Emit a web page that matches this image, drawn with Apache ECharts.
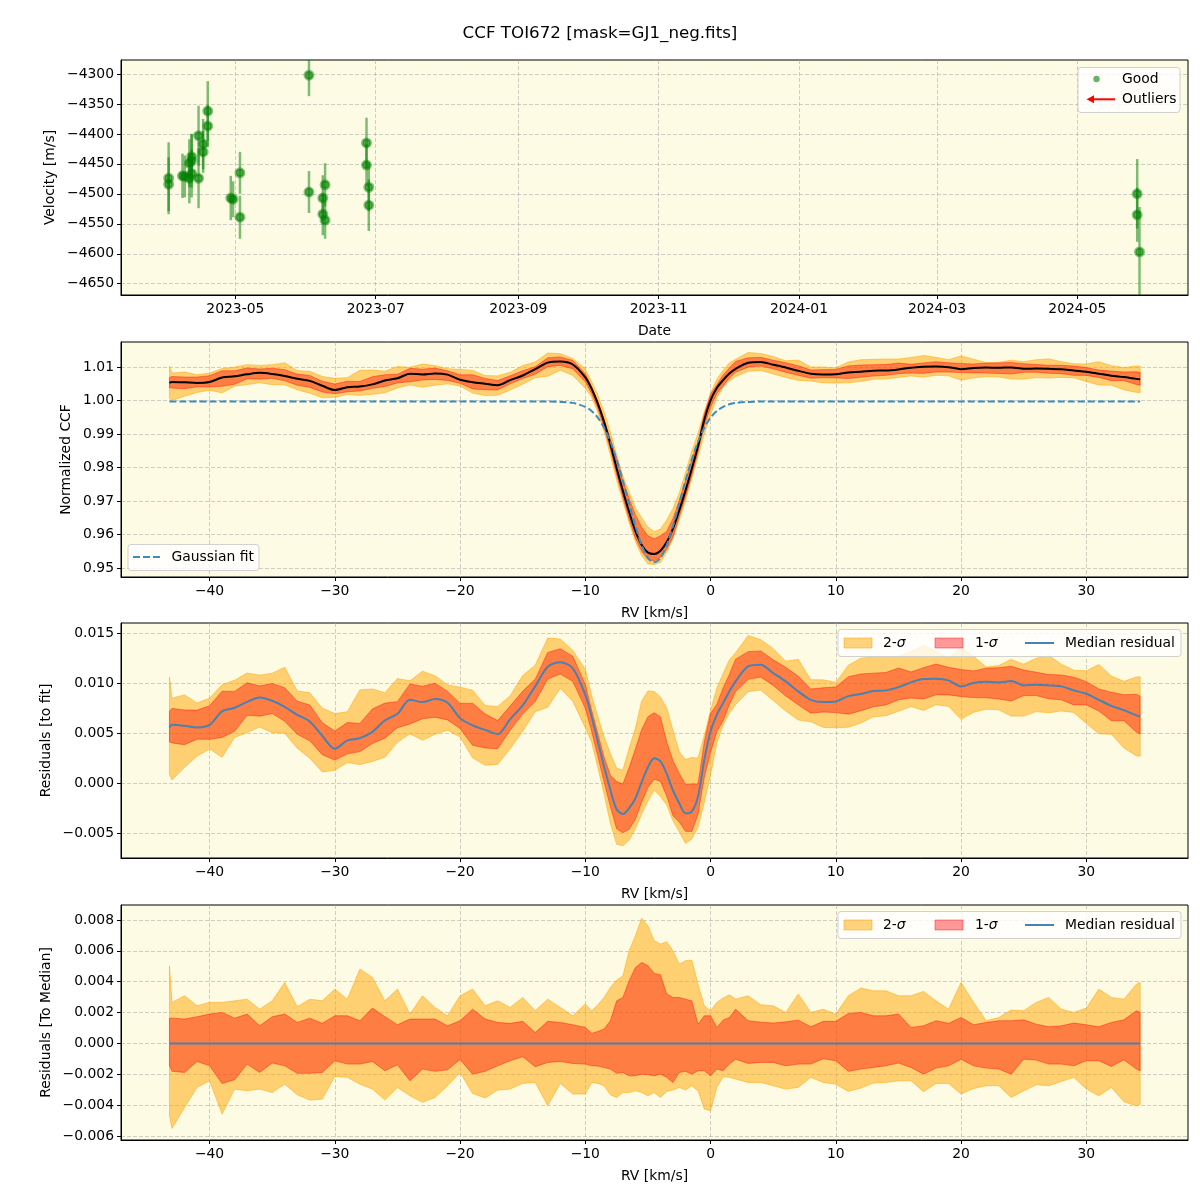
<!DOCTYPE html>
<html><head><meta charset="utf-8">
<script src="https://cdn.jsdelivr.net/npm/echarts@6/dist/echarts.min.js"></script>
<style>html,body{margin:0;padding:0;background:#fff}#c{width:1200px;height:1200px}</style>
</head><body><div id="c"></div>
<script>
// ---------------- DATA ----------------
// Panel 1: RV time series
const obsDates = ['2023-04-02','2023-04-02','2023-04-08','2023-04-09','2023-04-11','2023-04-11','2023-04-12','2023-04-12','2023-04-12','2023-04-15','2023-04-15','2023-04-17','2023-04-17','2023-04-19','2023-04-19','2023-04-29','2023-04-30','2023-05-03','2023-05-03','2023-06-02','2023-06-02','2023-06-09','2023-06-08','2023-06-08','2023-06-09','2023-06-27','2023-06-27','2023-06-28','2023-06-28','2024-05-27','2024-05-27','2024-05-28'];
const obsVel = [-4474,-4484,-4470,-4471,-4449,-4474,-4438,-4445,-4466,-4403,-4474,-4417,-4430,-4362,-4387,-4507,-4509,-4465,-4539,-4302,-4497,-4485,-4507,-4534,-4544,-4415,-4452,-4489,-4519,-4500,-4535,-4597];
const obsErr = [60,45,37,35,40,42,38,45,40,50,50,42,35,50,35,37,30,35,36,35,35,36,38,35,31,42,35,40,43,58,45,75];
const dateTicks = ['2023-05','2023-07','2023-09','2023-11','2024-01','2024-03','2024-05'];
const velTicks = [-4650,-4600,-4550,-4500,-4450,-4400,-4350,-4300];

// CCF panels
const rv = [-43.2,-43,-42,-41,-40,-39,-38,-37,-36,-35,-34,-33,-32,-31,-30,-29,-28,-27,-26,-25,-24,-23,-22,-21,-20,-19,-18,-17,-16,-15,-14,-13,-12,-11,-10,
 -9.5,-9,-8.5,-8,-7.5,-7,-6.5,-6,-5.5,-5,-4.5,-4,-3.5,-3,-2.5,-2,-1.5,-1,-0.5,0,0.5,1,1.5,2,
 3,4,5,6,7,8,9,10,11,12,13,14,15,16,17,18,19,20,21,22,23,24,25,26,27,28,29,30,31,32,33,34,34.3];

const gaussFit = [0.9997,0.9997,0.9997,0.9997,0.9997,0.9997,0.9997,0.9997,0.9997,0.9997,0.9997,0.9997,0.9997,0.9997,0.9997,0.9997,0.9997,0.9997,0.9997,0.9997,0.9997,0.9997,0.9997,0.9997,0.9997,0.9997,0.9997,0.9997,0.9997,0.9997,0.9997,0.9997,0.9996,0.9993,0.9981,
 0.9969,0.9949,0.9919,0.9877,0.9824,0.9761,0.9692,0.9625,0.9568,0.9530,0.9517,0.9530,0.9568,0.9625,0.9692,0.9761,0.9824,0.9877,0.9919,0.9949,0.9969,0.9981,0.9989,0.9993,
 0.9996,0.9997,0.9997,0.9997,0.9997,0.9997,0.9997,0.9997,0.9997,0.9997,0.9997,0.9997,0.9997,0.9997,0.9997,0.9997,0.9997,0.9997,0.9997,0.9997,0.9997,0.9997,0.9997,0.9997,0.9997,0.9997,0.9997,0.9997,0.9997,0.9997,0.9997,0.9997,0.9997];

const medRes = [0.00557,0.00583,0.00573,0.00557,0.00583,0.00717,0.00753,0.00813,0.00857,0.00823,0.00763,0.00683,0.00617,0.00473,0.00343,0.00427,0.00450,0.00513,0.00627,0.00693,0.00833,0.00810,0.00840,0.00803,0.00650,0.00577,0.00533,0.00490,0.00640,0.00777,0.00967,0.01163,0.01207,0.01147,0.00883,
 0.00667,0.00417,0.00167,-0.00067,-0.00260,-0.00307,-0.00250,-0.00150,0.00010,0.00160,0.00250,0.00217,0.00093,-0.00073,-0.00200,-0.00300,-0.00283,-0.00133,0.00233,0.00517,0.00683,0.00800,0.00917,0.01017,
 0.01167,0.01183,0.01100,0.01017,0.00917,0.00833,0.00810,0.00817,0.00870,0.00890,0.00920,0.00927,0.00960,0.01007,0.01040,0.01043,0.01027,0.00967,0.01000,0.01013,0.01007,0.01020,0.00977,0.00983,0.00977,0.00967,0.00927,0.00893,0.00833,0.00773,0.00730,0.00677,
 0.00667];

// spread of residuals around the median (panel 4)
const sig2Up = [0.00503,0.00266,0.00309,0.00244,0.00266,0.00266,0.00276,0.00287,0.00222,0.00276,0.00395,0.00238,0.00287,0.00276,0.00352,0.00287,0.00482,0.00428,0.00276,0.00352,0.00190,0.00309,0.00233,0.00179,0.00309,0.00352,0.00244,0.00276,0.00233,0.00298,0.00212,0.00287,0.00233,0.00179,0.00255,
 0.00212,0.00250,0.00298,0.00363,0.00410,0.00438,0.00600,0.00698,0.00812,0.00762,0.00665,0.00644,0.00659,0.00600,0.00514,0.00536,0.00540,0.00384,0.00244,0.00212,0.00266,0.00294,0.00315,0.00287,
 0.00309,0.00251,0.00244,0.00201,0.00320,0.00201,0.00222,0.00190,0.00309,0.00359,0.00341,0.00341,0.00309,0.00309,0.00337,0.00276,0.00222,0.00395,0.00266,0.00147,0.00168,0.00216,0.00212,0.00266,0.00298,0.00222,0.00201,0.00229,0.00352,0.00298,0.00287,0.00384,
 0.00395];
const sig2Lo = [-0.00469,-0.00551,-0.00415,-0.00285,-0.00242,-0.00458,-0.00296,-0.00307,-0.00296,-0.00318,-0.00264,-0.00333,-0.00367,-0.00361,-0.00214,-0.00220,-0.00264,-0.00296,-0.00367,-0.00285,-0.00339,-0.00382,-0.00350,-0.00274,-0.00188,-0.00324,-0.00354,-0.00302,-0.00296,-0.00259,-0.00253,-0.00404,-0.00259,-0.00328,-0.00328,
 -0.00253,-0.00259,-0.00274,-0.00333,-0.00350,-0.00318,-0.00318,-0.00307,-0.00318,-0.00339,-0.00318,-0.00350,-0.00311,-0.00302,-0.00285,-0.00302,-0.00274,-0.00307,-0.00425,-0.00436,-0.00285,-0.00216,-0.00220,-0.00231,
 -0.00253,-0.00253,-0.00274,-0.00296,-0.00285,-0.00220,-0.00253,-0.00264,-0.00311,-0.00289,-0.00257,-0.00253,-0.00242,-0.00242,-0.00313,-0.00259,-0.00259,-0.00328,-0.00292,-0.00274,-0.00274,-0.00350,-0.00307,-0.00268,-0.00274,-0.00246,-0.00220,-0.00296,-0.00339,-0.00285,-0.00378,-0.00404,
 -0.00397];
const sig1Up = [0.00164,0.00164,0.00158,0.00173,0.00190,0.00201,0.00164,0.00190,0.00114,0.00173,0.00190,0.00136,0.00164,0.00130,0.00179,0.00179,0.00147,0.00229,0.00173,0.00121,0.00158,0.00158,0.00158,0.00114,0.00147,0.00222,0.00158,0.00136,0.00130,0.00143,0.00071,0.00143,0.00136,0.00121,0.00104,
 0.00065,0.00078,0.00093,0.00147,0.00276,0.00298,0.00406,0.00492,0.00525,0.00503,0.00454,0.00445,0.00320,0.00298,0.00298,0.00287,0.00276,0.00125,0.00179,0.00179,0.00104,0.00151,0.00168,0.00222,
 0.00147,0.00138,0.00132,0.00140,0.00151,0.00108,0.00143,0.00143,0.00194,0.00201,0.00179,0.00179,0.00190,0.00104,0.00114,0.00147,0.00130,0.00168,0.00121,0.00136,0.00147,0.00147,0.00153,0.00125,0.00108,0.00114,0.00132,0.00121,0.00108,0.00136,0.00153,0.00212,
 0.00201];
const sig1Lo = [-0.00145,-0.00181,-0.00188,-0.00117,-0.00145,-0.00260,-0.00235,-0.00134,-0.00188,-0.00127,-0.00145,-0.00194,-0.00194,-0.00188,-0.00112,-0.00134,-0.00134,-0.00117,-0.00177,-0.00138,-0.00242,-0.00166,-0.00181,-0.00171,-0.00104,-0.00199,-0.00181,-0.00145,-0.00112,-0.00086,-0.00151,-0.00123,-0.00117,-0.00130,-0.00134,
 -0.00145,-0.00147,-0.00156,-0.00166,-0.00194,-0.00188,-0.00210,-0.00210,-0.00199,-0.00203,-0.00210,-0.00199,-0.00220,-0.00253,-0.00188,-0.00181,-0.00199,-0.00177,-0.00177,-0.00210,-0.00166,-0.00177,-0.00134,-0.00102,
 -0.00130,-0.00123,-0.00123,-0.00145,-0.00134,-0.00134,-0.00099,-0.00112,-0.00181,-0.00166,-0.00156,-0.00145,-0.00127,-0.00156,-0.00199,-0.00160,-0.00145,-0.00102,-0.00145,-0.00160,-0.00166,-0.00199,-0.00102,-0.00108,-0.00134,-0.00134,-0.00145,-0.00112,-0.00112,-0.00149,-0.00106,-0.00166,
 -0.00177];
const medianToMedian = [0, 0];

const rvTicks = [-40,-30,-20,-10,0,10,20,30];
const ccfTicks = [0.95,0.96,0.97,0.98,0.99,1.00,1.01];
const resTicks = [-0.005,0,0.005,0.010,0.015];
const medTicks = [-0.006,-0.004,-0.002,0,0.002,0.004,0.006,0.008];

// ---------------- DERIVED (residual = CCF - fit) ----------------
const p3s2Up = medRes.map((m,i)=>m+sig2Up[i]);
const p3s2Lo = medRes.map((m,i)=>m+sig2Lo[i]);
const p3s1Up = medRes.map((m,i)=>m+sig1Up[i]);
const p3s1Lo = medRes.map((m,i)=>m+sig1Lo[i]);
const p2Med  = gaussFit.map((g,i)=>g+medRes[i]);
const p2s2Up = gaussFit.map((g,i)=>g+p3s2Up[i]);
const p2s2Lo = gaussFit.map((g,i)=>g+p3s2Lo[i]);
const p2s1Up = gaussFit.map((g,i)=>g+p3s1Up[i]);
const p2s1Lo = gaussFit.map((g,i)=>g+p3s1Lo[i]);

// ---------------- STYLE ----------------
const BG = '#fdfbe3';
const GRIDLINE = 'rgba(170,170,170,0.55)';
const FONT = 'DejaVu Sans';
const FS = 13.9;
const C2 = 'rgba(255,165,0,0.5)';
const C1 = 'rgba(255,0,0,0.4)';
const BLUE = '#4682b4';
const tOf = s => Date.parse(s.length === 7 ? s + '-01T00:00:00Z' : s + 'T00:00:00Z');
const minus = s => s.replace('-', '\u2212');

const L = 121, W = 1067, H = 235;
const tops = [60, 342, 623, 905];
const grids = tops.map(t => ({left: L, top: t, width: W, height: H, show: true, backgroundColor: BG,
  borderColor: '#000', borderWidth: 1, containLabel: false, outerBoundsMode: 'none'}));

function axisBase(idx, min, max, ticks, fmt, name, gap) {
  return {
    gridIndex: idx, type: 'value', min: min, max: max, name: name, nameLocation: 'middle', nameGap: gap,
    nameMoveOverlap: false,
    nameTextStyle: {fontSize: FS, fontFamily: FONT, color: '#000'},
    axisLine: {show: true, onZero: false, lineStyle: {color: '#000', width: 1}},
    axisTick: {show: true, inside: false, length: 4, customValues: ticks, lineStyle: {color: '#000', width: 1}},
    axisLabel: {show: true, customValues: ticks, margin: 7, fontSize: FS, fontFamily: FONT, color: '#000', formatter: fmt},
    splitLine: {show: true, lineStyle: {color: GRIDLINE, width: 1, type: [4, 2]}}
  };
}
const dateFmt = v => { const d = new Date(v); return d.getUTCFullYear() + '-' + String(d.getUTCMonth() + 1).padStart(2, '0'); };
const intFmt = v => minus(String(Math.round(v)));
const fix = n => v => minus(Number(v).toFixed(n));

const xAxes = [
  axisBase(0, Date.parse('2023-03-12T07:00:00Z'), Date.parse('2024-06-18T02:00:00Z'), dateTicks.map(tOf), dateFmt, 'Date', 29),
  axisBase(1, -47.07, 38.12, rvTicks, intFmt, 'RV [km/s]', 29),
  axisBase(2, -47.07, 38.12, rvTicks, intFmt, 'RV [km/s]', 29),
  axisBase(3, -47.07, 38.12, rvTicks, intFmt, 'RV [km/s]', 29)
];
const yAxes = [
  axisBase(0, -4668.8, -4276.7, velTicks, intFmt, 'Velocity [m/s]', 64),
  axisBase(1, 0.94731, 1.01748, ccfTicks, fix(2), 'Normalized CCF', 48),
  axisBase(2, -0.00747, 0.0160, resTicks, fix(3), 'Residuals [to fit]', 68),
  axisBase(3, -0.006259, 0.008972, medTicks, fix(3), 'Residuals [To Median]', 68)
];

function band(idx, lo, hi, color) {
  return {
    type: 'custom', xAxisIndex: idx, yAxisIndex: idx, silent: true,
    data: [[rv[0], lo[0]]],
    renderItem: (params, api) => {
      const pts = [];
      for (let i = 0; i < rv.length; i++) pts.push(api.coord([rv[i], hi[i]]));
      for (let i = rv.length - 1; i >= 0; i--) pts.push(api.coord([rv[i], lo[i]]));
      return {type: 'polygon', shape: {points: pts}, style: {fill: color, stroke: color, lineWidth: 1}};
    }
  };
}
function line(idx, xs, ys, color, width, dash, smooth) {
  return {
    type: 'line', xAxisIndex: idx, yAxisIndex: idx, silent: true, symbol: 'none', showSymbol: false,
    smooth: smooth, data: xs.map((x, i) => [x, ys[i]]),
    lineStyle: {color: color, width: width, type: dash || 'solid'}
  };
}

const obsData = obsDates.map((d, i) => [tOf(d), obsVel[i], obsErr[i]]);

const series = [
  {
    type: 'custom', xAxisIndex: 0, yAxisIndex: 0, silent: true, data: obsData,
    encode: {x: 0, y: 1},
    renderItem: (params, api) => {
      const cs = params.coordSys;
      const x = api.value(0), v = api.value(1), e = api.value(2);
      const a = api.coord([x, v - e]), b = api.coord([x, v + e]);
      const clampY = y => Math.max(cs.y, Math.min(cs.y + cs.height, y));
      return {type: 'line', shape: {x1: a[0], y1: clampY(a[1]), x2: b[0], y2: clampY(b[1])},
        style: {stroke: 'rgba(0,128,0,0.5)', lineWidth: 2.5}};
    }
  },
  {
    type: 'scatter', xAxisIndex: 0, yAxisIndex: 0, silent: true,
    data: obsData.map(p => [p[0], p[1]]), symbolSize: 8,
    itemStyle: {color: 'rgba(0,128,0,0.65)', borderColor: 'rgba(0,128,0,0.45)', borderWidth: 3, opacity: 1}
  },
  band(1, p2s2Lo, p2s2Up, C2),
  band(1, p2s1Lo, p2s1Up, C1),
  line(1, rv, p2Med, '#000', 2, null, 0.3),
  line(1, rv, gaussFit, '#3a8cc4', 2, [7, 3], 0.3),
  band(2, p3s2Lo, p3s2Up, C2),
  band(2, p3s1Lo, p3s1Up, C1),
  line(2, rv, medRes, BLUE, 2, null, 0.3),
  band(3, sig2Lo, sig2Up, C2),
  band(3, sig1Lo, sig1Up, C1),
  line(3, [rv[0], rv[rv.length - 1]], medianToMedian, BLUE, 2, null, false)
];

// ---------------- LEGENDS / TITLE (graphic) ----------------
function txt(x, y, t, align, size, rich) {
  const st = {text: t, x: x, y: y, fill: '#000', fontSize: size || FS, fontFamily: FONT,
    align: align || 'left', verticalAlign: 'middle', textAlign: align || 'left', textVerticalAlign: 'middle'};
  if (rich) st.rich = rich;
  return {type: 'text', z: 100, style: st};
}
function box(x, y, w, h) {
  return {type: 'rect', z: 99, shape: {x: x, y: y, width: w, height: h, r: 3},
    style: {fill: 'rgba(255,255,255,0.8)', stroke: 'rgba(204,204,204,0.9)', lineWidth: 1}};
}
const sigRich = {n: {fontSize: FS, fontFamily: FONT, fill: '#000'}, s: {fontSize: FS, fontFamily: FONT, fontStyle: 'italic', fill: '#000'}};
function sigmaLegend(top) {
  const y0 = top + 6.5, cy = y0 + 13.5;
  return [
    box(838, y0, 343, 27),
    {type: 'rect', z: 100, shape: {x: 844, y: cy - 5, width: 28, height: 10}, style: {fill: C2, stroke: C2, lineWidth: 1}},
    txt(883, cy, '{n|2-}{s|σ}', 'left', FS, sigRich),
    {type: 'rect', z: 100, shape: {x: 935, y: cy - 5, width: 28, height: 10}, style: {fill: C1, stroke: C1, lineWidth: 1}},
    txt(975, cy, '{n|1-}{s|σ}', 'left', FS, sigRich),
    {type: 'line', z: 100, shape: {x1: 1025, y1: cy, x2: 1054, y2: cy}, style: {stroke: BLUE, lineWidth: 2}},
    txt(1065, cy, 'Median residual')
  ];
}
const graphics = [
  txt(600, 33.5, 'CCF TOI672 [mask=GJ1_neg.fits]', 'center', 16.7),
  box(1078, 67.5, 102, 45),
  {type: 'circle', z: 100, shape: {cx: 1096.5, cy: 79, r: 3.2}, style: {fill: 'rgba(0,128,0,0.6)'}},
  txt(1122, 79, 'Good'),
  {type: 'line', z: 100, shape: {x1: 1115, y1: 99.3, x2: 1091, y2: 99.3}, style: {stroke: '#ff0000', lineWidth: 2}},
  {type: 'polygon', z: 100, shape: {points: [[1086.5, 99.3], [1094, 95.3], [1094, 103.3]]}, style: {fill: '#ff0000'}},
  txt(1122, 99.3, 'Outliers'),
  box(128, 544.5, 131, 26),
  {type: 'line', z: 100, shape: {x1: 133, y1: 557, x2: 161, y2: 557}, style: {stroke: '#3a8cc4', lineWidth: 2, lineDash: [7, 3]}},
  txt(171.5, 557, 'Gaussian fit')
].concat(sigmaLegend(tops[2]), sigmaLegend(tops[3]));

const chart = echarts.init(document.getElementById('c'), null, {renderer: 'canvas', width: 1200, height: 1200});
chart.setOption({
  animation: false,
  backgroundColor: '#ffffff',
  textStyle: {fontFamily: FONT},
  grid: grids,
  xAxis: xAxes,
  yAxis: yAxes,
  series: series,
  graphic: {elements: graphics}
});
</script>
</body></html>
